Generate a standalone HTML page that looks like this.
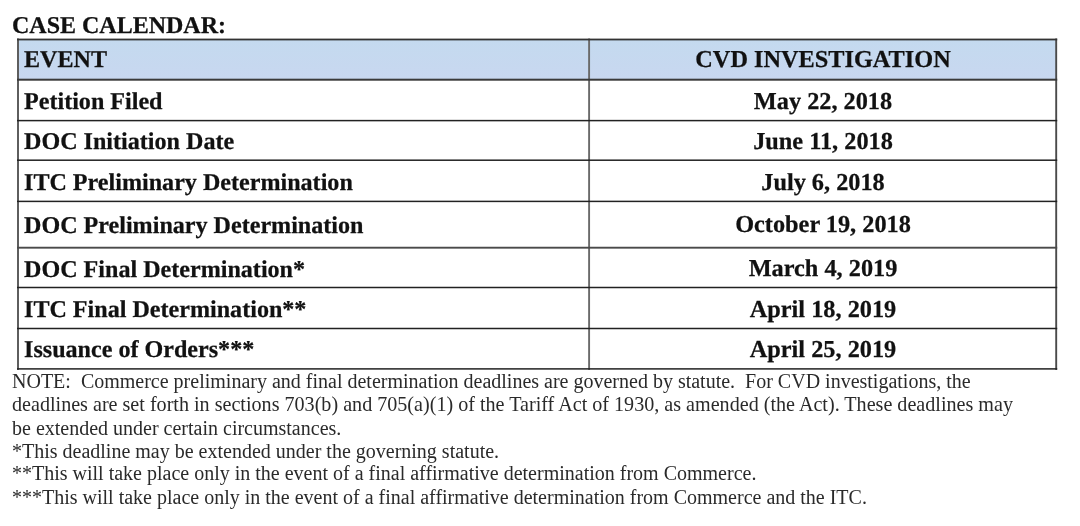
<!DOCTYPE html>
<html><head><meta charset="utf-8"><style>
html,body{margin:0;padding:0;background:#fff;}
body{width:1080px;height:526px;position:relative;overflow:hidden;font-family:"Liberation Serif",serif;}
.t{position:absolute;white-space:nowrap;will-change:transform;}
.g{text-rendering:geometricPrecision;-webkit-text-stroke:0.25px #111;}
.hl{position:absolute;background:#262626;}
.vl{position:absolute;background:#5a5a5a;}
</style></head><body>
<div style="position:absolute;left:18px;top:39.5px;width:1038.2px;height:40.2px;background:linear-gradient(#c4daef,#c8d7f0)"></div>
<svg style="position:absolute;left:0;top:0" width="1080" height="526" shape-rendering="geometricPrecision"><rect x="17.00" y="38.5" width="2.0" height="331.4" fill="#5e5e5e"/><rect x="588.15" y="38.5" width="1.9" height="331.4" fill="#6a6a6a"/><rect x="1055.25" y="38.5" width="1.9" height="331.4" fill="#4a4a4a"/><rect x="17" y="38.60" width="1040.2" height="1.8" fill="#333"/><rect x="17" y="78.70" width="1040.2" height="2.0" fill="#3a3a3a"/><rect x="17" y="119.85" width="1040.2" height="1.5" fill="#222"/><rect x="17" y="159.45" width="1040.2" height="1.5" fill="#222"/><rect x="17" y="200.65" width="1040.2" height="1.5" fill="#222"/><rect x="17" y="246.75" width="1040.2" height="1.9" fill="#4a4a4a"/><rect x="17" y="286.75" width="1040.2" height="1.5" fill="#222"/><rect x="17" y="327.75" width="1040.2" height="1.5" fill="#222"/><rect x="17" y="368.15" width="1040.2" height="1.5" fill="#222"/></svg>
<div class="t g" style="left:12px;top:14.20px;font-size:24px;line-height:24px;font-weight:bold;color:#111">CASE CALENDAR:</div>
<div class="t g" style="left:24.25px;top:48.32px;font-size:24.1px;line-height:24.1px;font-weight:bold;color:#111">EVENT</div>
<div class="t g" style="left:523.1500000000001px;width:600px;text-align:center;top:48.15px;font-size:24.3px;line-height:24.3px;font-weight:bold;color:#111">CVD INVESTIGATION</div>
<div class="t g" style="left:24.25px;top:89.82px;font-size:24.1px;line-height:24.1px;font-weight:bold;color:#111">Petition Filed</div>
<div class="t g" style="left:523.1500000000001px;width:600px;text-align:center;top:89.65px;font-size:24.3px;line-height:24.3px;font-weight:bold;color:#111">May 22, 2018</div>
<div class="t g" style="left:24.25px;top:130.12px;font-size:24.1px;line-height:24.1px;font-weight:bold;color:#111">DOC Initiation Date</div>
<div class="t g" style="left:523.1500000000001px;width:600px;text-align:center;top:129.95px;font-size:24.3px;line-height:24.3px;font-weight:bold;color:#111">June 11, 2018</div>
<div class="t g" style="left:24.25px;top:170.82px;font-size:24.1px;line-height:24.1px;font-weight:bold;color:#111">ITC Preliminary Determination</div>
<div class="t g" style="left:523.1500000000001px;width:600px;text-align:center;top:170.65px;font-size:24.3px;line-height:24.3px;font-weight:bold;color:#111">July 6, 2018</div>
<div class="t g" style="left:24.25px;top:213.52px;font-size:24.1px;line-height:24.1px;font-weight:bold;color:#111">DOC Preliminary Determination</div>
<div class="t g" style="left:523.1500000000001px;width:600px;text-align:center;top:213.35px;font-size:24.3px;line-height:24.3px;font-weight:bold;color:#111">October 19, 2018</div>
<div class="t g" style="left:24.25px;top:257.52px;font-size:24.1px;line-height:24.1px;font-weight:bold;color:#111">DOC Final Determination*</div>
<div class="t g" style="left:523.1500000000001px;width:600px;text-align:center;top:257.35px;font-size:24.3px;line-height:24.3px;font-weight:bold;color:#111">March 4, 2019</div>
<div class="t g" style="left:24.25px;top:298.12px;font-size:24.1px;line-height:24.1px;font-weight:bold;color:#111">ITC Final Determination**</div>
<div class="t g" style="left:523.1500000000001px;width:600px;text-align:center;top:297.95px;font-size:24.3px;line-height:24.3px;font-weight:bold;color:#111">April 18, 2019</div>
<div class="t g" style="left:24.25px;top:338.12px;font-size:24.1px;line-height:24.1px;font-weight:bold;color:#111">Issuance of Orders***</div>
<div class="t g" style="left:523.1500000000001px;width:600px;text-align:center;top:337.95px;font-size:24.3px;line-height:24.3px;font-weight:bold;color:#111">April 25, 2019</div>
<div class="t" style="left:12px;top:371.25px;font-size:20px;line-height:20px;font-weight:normal;color:#2a2a2a">NOTE:&nbsp; Commerce preliminary and final determination deadlines are governed by statute.&nbsp; For CVD investigations, the</div>
<div class="t" style="left:12px;top:393.85px;font-size:20.12px;line-height:20.12px;font-weight:normal;color:#2a2a2a">deadlines are set forth in sections 703(b) and 705(a)(1) of the Tariff Act of 1930, as amended (the Act). These deadlines may</div>
<div class="t" style="left:12px;top:417.95px;font-size:20px;line-height:20px;font-weight:normal;color:#2a2a2a">be extended under certain circumstances.</div>
<div class="t" style="left:12px;top:441.25px;font-size:20px;line-height:20px;font-weight:normal;color:#2a2a2a">*This deadline may be extended under the governing statute.</div>
<div class="t" style="left:12px;top:463.25px;font-size:20px;line-height:20px;font-weight:normal;color:#2a2a2a">**This will take place only in the event of a final affirmative determination from Commerce.</div>
<div class="t" style="left:12px;top:486.75px;font-size:20px;line-height:20px;font-weight:normal;color:#2a2a2a">***This will take place only in the event of a final affirmative determination from Commerce and the ITC.</div>
</body></html>
